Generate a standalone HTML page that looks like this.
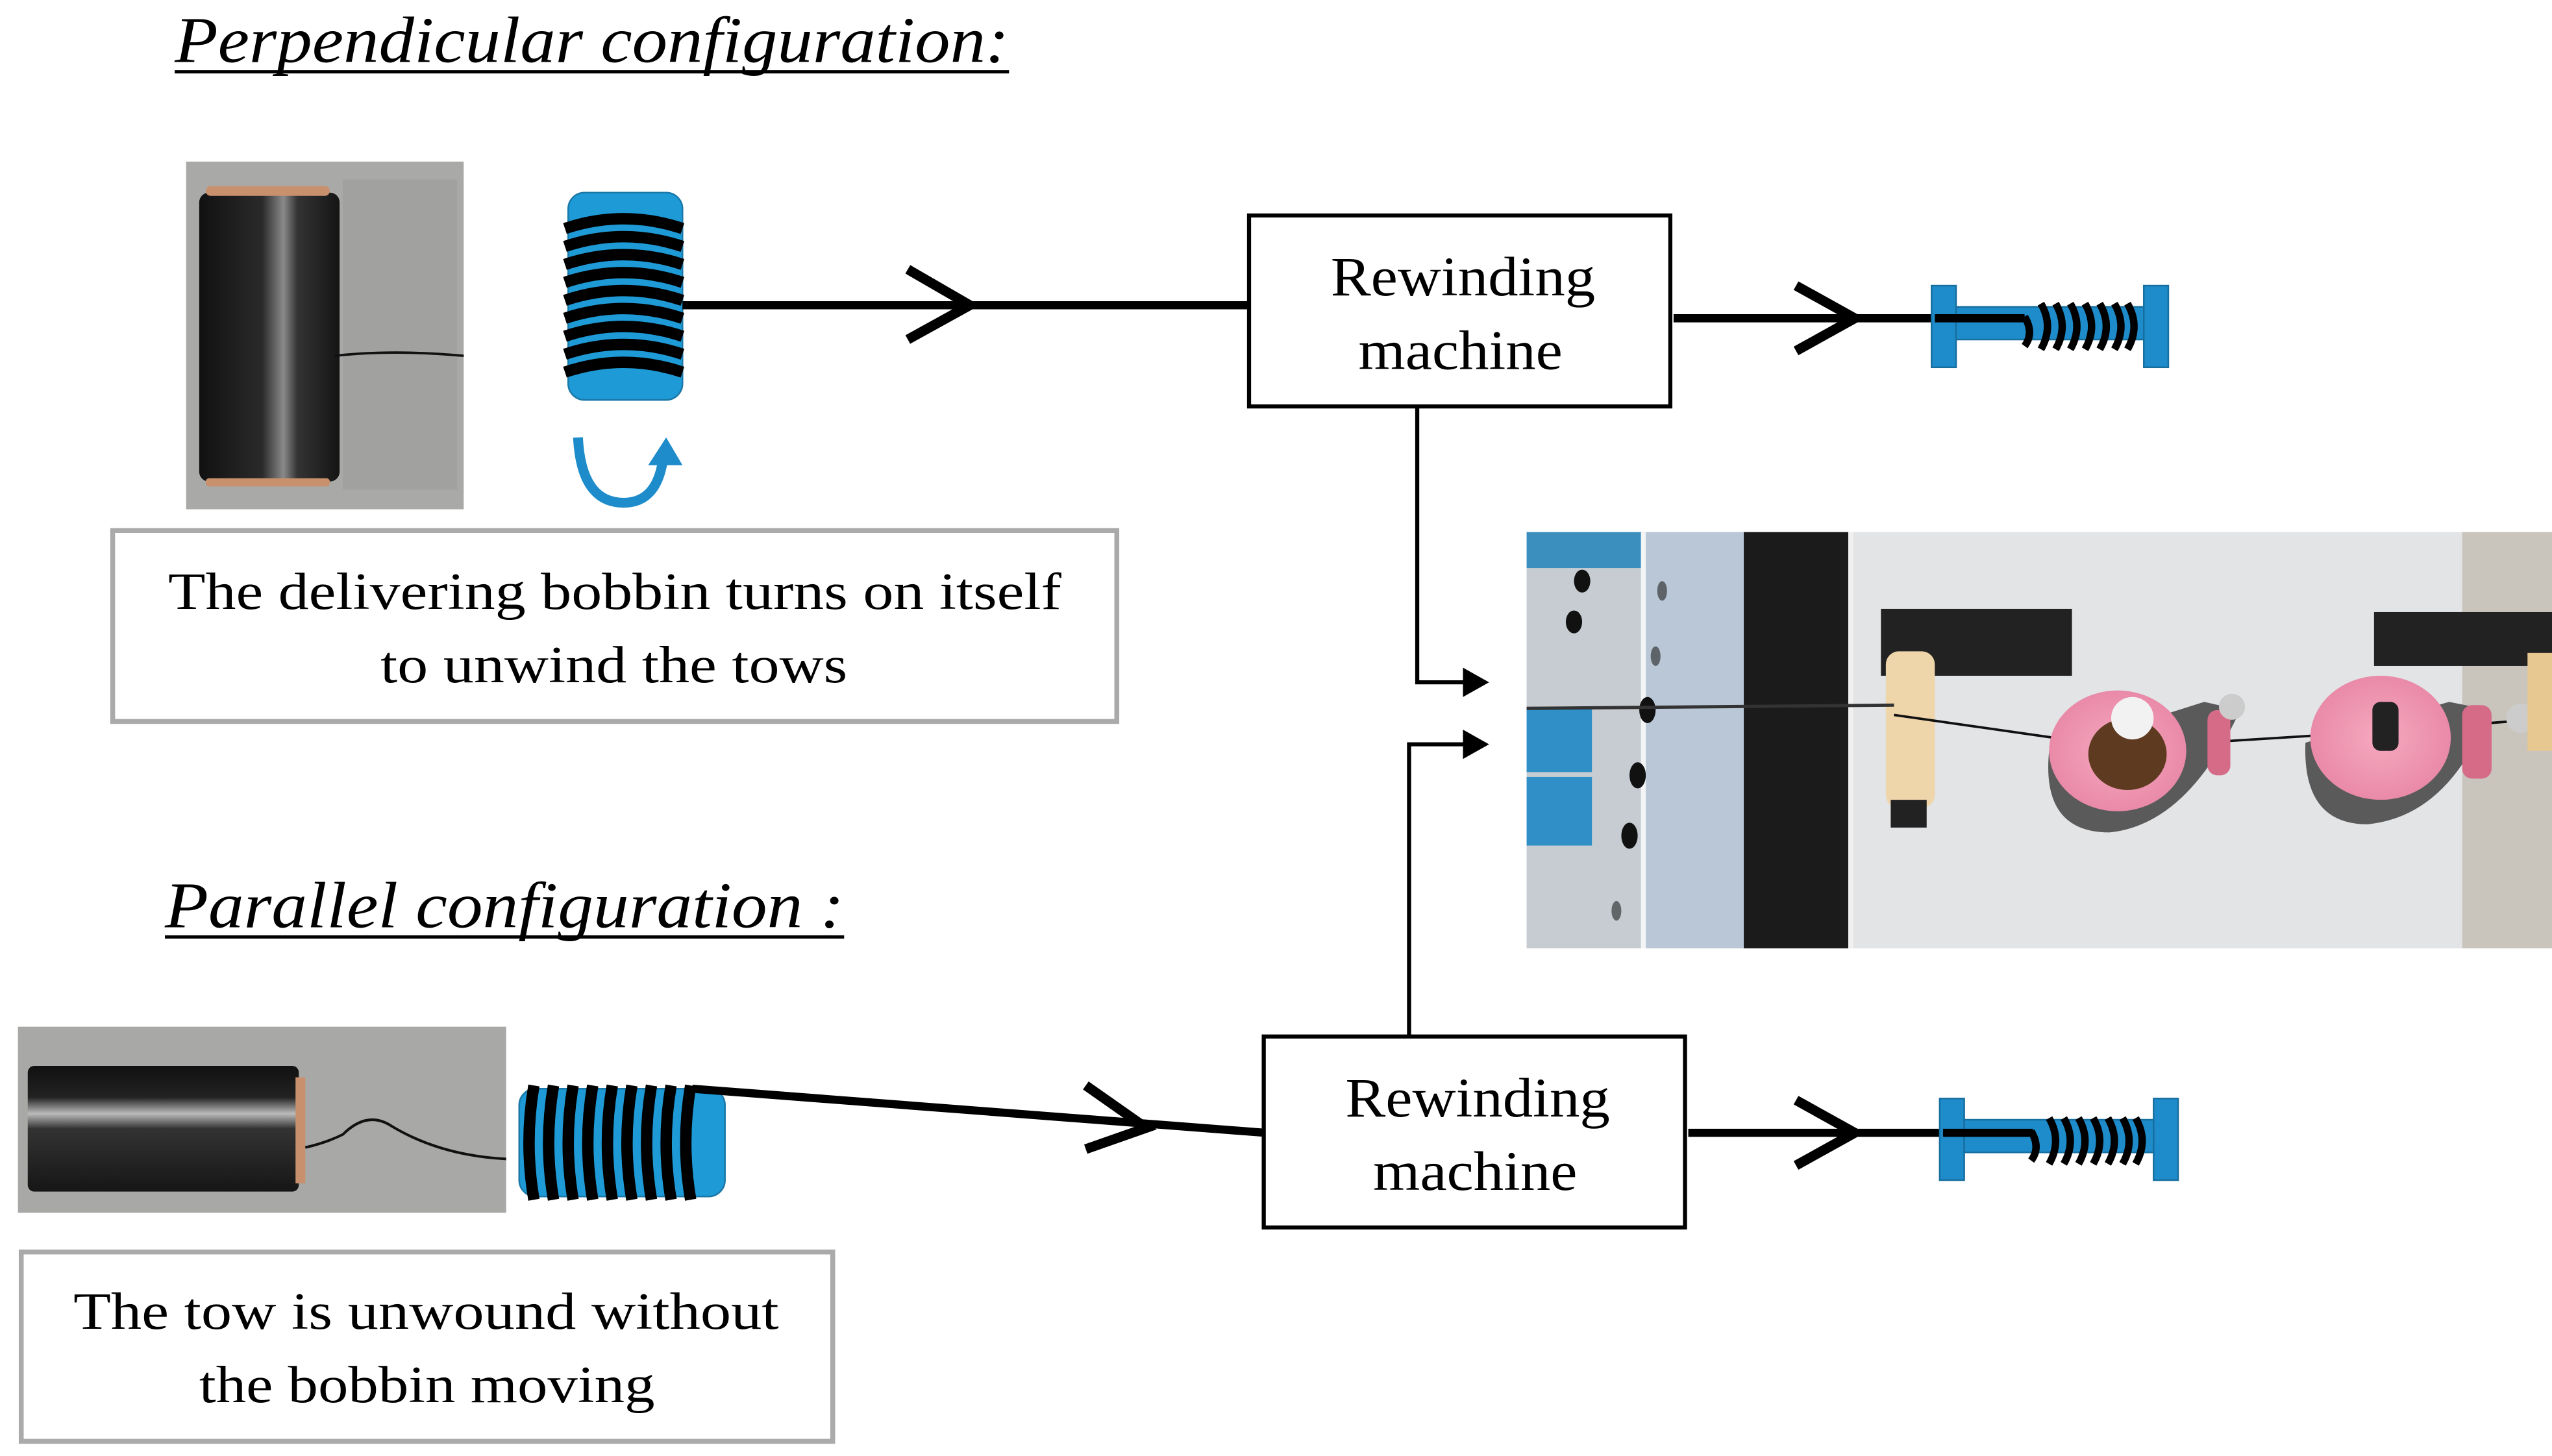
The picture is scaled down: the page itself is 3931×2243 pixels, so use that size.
<!DOCTYPE html>
<html><head><meta charset="utf-8"><style>
html,body{margin:0;padding:0;background:#fff}
svg{display:block}
</style></head><body>
<svg width="3931" height="2243" viewBox="0 0 1563 892" xmlns="http://www.w3.org/2000/svg" preserveAspectRatio="none" font-family="'Liberation Serif', serif">
<defs>
<linearGradient id="spoolV" x1="0" x2="1" y1="0" y2="0">
<stop offset="0" stop-color="#111"/><stop offset="0.45" stop-color="#2a2a2a"/><stop offset="0.6" stop-color="#8a8a8a"/><stop offset="0.7" stop-color="#333"/><stop offset="1" stop-color="#151515"/>
</linearGradient>
<linearGradient id="spoolH" x1="0" x2="0" y1="0" y2="1">
<stop offset="0" stop-color="#111"/><stop offset="0.25" stop-color="#222"/><stop offset="0.38" stop-color="#bbb"/><stop offset="0.5" stop-color="#333"/><stop offset="1" stop-color="#161616"/>
</linearGradient>
<radialGradient id="pinkg"><stop offset="0" stop-color="#f6a9c0"/><stop offset="1" stop-color="#e98aa8"/></radialGradient>
</defs>

<!-- Titles -->
<text x="107" y="38" font-size="40" font-style="italic" fill="#000" textLength="511" lengthAdjust="spacingAndGlyphs">Perpendicular configuration:</text>
<rect x="107" y="43" width="511" height="2" fill="#000"/>
<text x="101" y="568" font-size="40" font-style="italic" fill="#000" textLength="416" lengthAdjust="spacingAndGlyphs">Parallel configuration :</text>
<rect x="101" y="573" width="416" height="2" fill="#000"/>

<!-- Photo 1 -->
<rect x="114" y="99" width="170" height="213" fill="#a9aaa8"/>
<rect x="210" y="110" width="70" height="190" fill="#9c9d9b" opacity="0.6"/>
<rect x="122" y="118" width="86" height="177" rx="6" fill="url(#spoolV)"/>
<rect x="126" y="114" width="76" height="6" rx="3" fill="#c9906e"/>
<rect x="126" y="293" width="76" height="5" rx="2" fill="#c9906e"/>
<path d="M205 218 Q240 214 284 218" stroke="#111" stroke-width="1.5" fill="none"/>

<!-- Vertical bobbin -->
<rect x="348" y="118" width="70" height="127" rx="10" fill="#1e9ad6" stroke="#1a78a8" stroke-width="1"/>
<g stroke="#000" stroke-width="7" fill="none" stroke-linecap="butt">
<path d="M346 140 Q382 128 418 140"/><path d="M346 151 Q382 139 418 151"/><path d="M346 162 Q382 150 418 162"/>
<path d="M346 173 Q382 161 418 173"/><path d="M346 184 Q382 172 418 184"/><path d="M346 195 Q382 183 418 195"/>
<path d="M346 206 Q382 194 418 206"/><path d="M346 217 Q382 205 418 217"/><path d="M346 228 Q382 216 418 228"/>
</g>
<!-- U arrow -->
<path d="M354 268 Q356 308 382 308 Q402 308 406 282" stroke="#1e8ccb" stroke-width="6" fill="none"/>
<path d="M397 285 L408 268 L418 285 Z" fill="#1e8ccb"/>

<!-- Top line + chevron -->
<line x1="418" y1="187" x2="765" y2="187" stroke="#000" stroke-width="5"/>
<polyline points="556,165 594,187 556,208" stroke="#000" stroke-width="6" fill="none"/>

<!-- Box 1 -->
<rect x="765" y="132" width="258" height="117" fill="#fff" stroke="#000" stroke-width="2.5"/>
<text x="815" y="181" font-size="34" textLength="162" lengthAdjust="spacingAndGlyphs">Rewinding</text>
<text x="832" y="226" font-size="34" textLength="125" lengthAdjust="spacingAndGlyphs">machine</text>

<!-- Right arrow 1 + bobbin -->
<line x1="1025" y1="195" x2="1245" y2="195" stroke="#000" stroke-width="5"/>
<polyline points="1100,175 1136,195 1100,215" stroke="#000" stroke-width="6" fill="none"/>
<g>
<rect x="1183" y="175" width="15" height="50" fill="#1e8ccb" stroke="#176f9f"/>
<rect x="1313" y="175" width="15" height="50" fill="#1e8ccb" stroke="#176f9f"/>
<rect x="1198" y="188" width="115" height="20" fill="#1e8ccb" stroke="#176f9f"/>
<line x1="1185" y1="195" x2="1240" y2="195" stroke="#000" stroke-width="5"/>
<g stroke="#000" stroke-width="4.5" fill="none">
<path d="M1240 194 Q1246 204 1240 212"/><path d="M1250 186 Q1258 200 1250 214"/><path d="M1259 186 Q1267 200 1259 214"/>
<path d="M1268 186 Q1276 200 1268 214"/><path d="M1277 186 Q1285 200 1277 214"/><path d="M1286 186 Q1294 200 1286 214"/>
<path d="M1295 186 Q1303 200 1295 214"/><path d="M1303 186 Q1311 200 1303 214"/>
</g></g>

<!-- Text box 1 -->
<rect x="69" y="325" width="615" height="117" fill="#fff" stroke="#aaa" stroke-width="3"/>
<text x="103" y="373" font-size="32" textLength="547" lengthAdjust="spacingAndGlyphs">The delivering bobbin  turns on itself</text>
<text x="233" y="418" font-size="32" textLength="286" lengthAdjust="spacingAndGlyphs">to unwind the tows</text>

<!-- Connectors to photo -->
<polyline points="868,249 868,418 900,418" stroke="#000" stroke-width="2.5" fill="none"/>
<path d="M896 409 L912 418 L896 427 Z" fill="#000"/>
<polyline points="863,635 863,456 900,456" stroke="#000" stroke-width="2.5" fill="none"/>
<path d="M896 447 L912 456 L896 465 Z" fill="#000"/>

<!-- Photo 2 (machine) -->
<g>
<rect x="935" y="326" width="628" height="255" fill="#e2e4e6"/>
<rect x="935" y="326" width="72" height="255" fill="#c6ccd2"/>
<rect x="935" y="326" width="72" height="22" fill="#3a8fbf"/>
<rect x="935" y="433" width="40" height="40" fill="#2f8fc6"/>
<rect x="935" y="476" width="40" height="42" fill="#2f8fc6"/>
<rect x="1007" y="326" width="62" height="255" fill="#b9c7d6"/>
<rect x="1005" y="326" width="3" height="255" fill="#f2f4f6"/>
<rect x="1068" y="326" width="64" height="255" fill="#1b1b1b"/>
<rect x="1132" y="326" width="3" height="255" fill="#f0f0f0"/>
<rect x="1508" y="326" width="55" height="255" fill="#c9c5bd"/>
<g fill="#111"><ellipse cx="969" cy="356" rx="5" ry="7"/><ellipse cx="964" cy="381" rx="5" ry="7"/><ellipse cx="1009" cy="435" rx="5" ry="8"/><ellipse cx="1003" cy="475" rx="5" ry="8"/><ellipse cx="998" cy="512" rx="5" ry="8"/></g>
<g fill="#222" opacity="0.6"><ellipse cx="1018" cy="362" rx="3" ry="6"/><ellipse cx="1014" cy="402" rx="3" ry="6"/><ellipse cx="990" cy="558" rx="3" ry="6"/></g>
<rect x="1152" y="373" width="117" height="41" fill="#222"/>
<rect x="1155" y="399" width="30" height="96" rx="8" fill="#efd5aa"/>
<rect x="1158" y="490" width="22" height="17" fill="#222"/>
<line x1="935" y1="434" x2="1160" y2="432" stroke="#333" stroke-width="2"/>
<path d="M1160 438 L1300 458 L1460 448 L1563 440" stroke="#111" stroke-width="1.5" fill="none"/>
<path d="M1255 460 Q1250 510 1292 510 Q1340 505 1372 435 L1350 430 Z" fill="#5a5a5a"/>
<ellipse cx="1297" cy="460" rx="42" ry="37" fill="url(#pinkg)"/>
<ellipse cx="1303" cy="462" rx="24" ry="22" fill="#5e3a20"/>
<ellipse cx="1306" cy="440" rx="13" ry="13" fill="#f2f2f2"/>
<rect x="1352" y="435" width="14" height="40" rx="6" fill="#d66b88"/>
<circle cx="1367" cy="433" r="8" fill="#ccc"/>
<path d="M1412 455 Q1410 505 1450 505 Q1500 500 1525 435 L1500 430 Z" fill="#5a5a5a"/>
<ellipse cx="1458" cy="452" rx="43" ry="38" fill="url(#pinkg)"/>
<rect x="1453" y="430" width="16" height="30" rx="5" fill="#222"/>
<rect x="1508" y="432" width="18" height="45" rx="6" fill="#d66b88"/>
<circle cx="1544" cy="440" r="9" fill="#ccc"/>
<rect x="1454" y="375" width="109" height="33" fill="#222"/>
<rect x="1548" y="400" width="15" height="60" fill="#e6c890"/>
</g>

<!-- Photo 3 -->
<rect x="11" y="629" width="299" height="114" fill="#a8a9a7"/>
<rect x="17" y="653" width="166" height="77" rx="4" fill="url(#spoolH)"/>
<rect x="181" y="660" width="6" height="65" fill="#c9906e"/>
<path d="M187 703 Q200 700 210 695 Q225 680 240 690 Q270 708 310 710" stroke="#111" stroke-width="1.6" fill="none"/>

<!-- Horizontal bobbin -->
<rect x="318" y="667" width="126" height="66" rx="10" fill="#1e9ad6" stroke="#1a78a8"/>
<g stroke="#000" stroke-width="7" fill="none">
<path d="M327 665 Q321 700 327 735"/><path d="M339 665 Q333 700 339 735"/><path d="M351 665 Q345 700 351 735"/>
<path d="M363 665 Q357 700 363 735"/><path d="M375 665 Q369 700 375 735"/><path d="M387 665 Q381 700 387 735"/>
<path d="M399 665 Q393 700 399 735"/><path d="M411 665 Q405 700 411 735"/><path d="M423 665 Q417 700 423 735"/>
</g>
<line x1="424" y1="667" x2="775" y2="694" stroke="#000" stroke-width="5"/>
<polyline points="665,665 702,691 665,704" stroke="#000" stroke-width="6" fill="none"/>

<!-- Box 2 -->
<rect x="774" y="635" width="258" height="117" fill="#fff" stroke="#000" stroke-width="2.5"/>
<text x="824" y="684" font-size="34" textLength="162" lengthAdjust="spacingAndGlyphs">Rewinding</text>
<text x="841" y="729" font-size="34" textLength="125" lengthAdjust="spacingAndGlyphs">machine</text>

<!-- Right arrow 2 + bobbin -->
<line x1="1034" y1="694" x2="1248" y2="694" stroke="#000" stroke-width="5"/>
<polyline points="1100,674 1136,694 1100,714" stroke="#000" stroke-width="6" fill="none"/>
<g>
<rect x="1188" y="673" width="15" height="50" fill="#1e8ccb" stroke="#176f9f"/>
<rect x="1319" y="673" width="15" height="50" fill="#1e8ccb" stroke="#176f9f"/>
<rect x="1203" y="686" width="116" height="20" fill="#1e8ccb" stroke="#176f9f"/>
<line x1="1190" y1="694" x2="1245" y2="694" stroke="#000" stroke-width="5"/>
<g stroke="#000" stroke-width="4.5" fill="none">
<path d="M1244 693 Q1250 703 1244 711"/><path d="M1255 685 Q1263 699 1255 713"/><path d="M1264 685 Q1272 699 1264 713"/>
<path d="M1273 685 Q1281 699 1273 713"/><path d="M1282 685 Q1290 699 1282 713"/><path d="M1291 685 Q1299 699 1291 713"/>
<path d="M1300 685 Q1308 699 1300 713"/><path d="M1308 685 Q1316 699 1308 713"/>
</g></g>

<!-- Text box 2 -->
<rect x="13" y="767" width="497" height="116" fill="#fff" stroke="#aaa" stroke-width="3"/>
<text x="45" y="814" font-size="32" textLength="432" lengthAdjust="spacingAndGlyphs">The tow is unwound without</text>
<text x="122" y="859" font-size="32" textLength="279" lengthAdjust="spacingAndGlyphs">the bobbin moving</text>
</svg>
</body></html>
